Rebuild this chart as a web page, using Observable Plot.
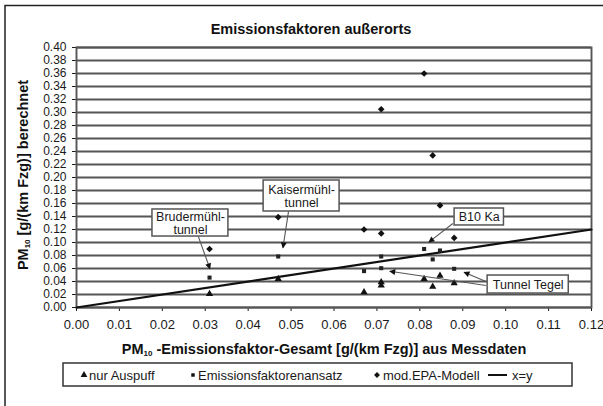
<!DOCTYPE html>
<html><head><meta charset="utf-8">
<script src="https://cdn.jsdelivr.net/npm/d3@7"></script>
<script src="https://cdn.jsdelivr.net/npm/@observablehq/plot@0.6"></script>
<style>
body{margin:0;background:#fff;}
svg{font-family:"Liberation Sans",Arial,Helvetica,sans-serif;}
</style>
</head><body><div id="chart"></div>
<script>
// ---- data ----
const chartTitle = "Emissionsfaktoren außerorts";
const seriesNames = ["nur Auspuff", "Emissionsfaktorenansatz", "mod.EPA-Modell", "x=y"];
// measured PM10 emission factor per site (x)
const siteX      = [0.031, 0.047, 0.067, 0.071, 0.071, 0.081, 0.083, 0.0847, 0.088];
// computed values per site (y)
const auspuff    = [0.021, 0.044, 0.0235, 0.039, 0.034, 0.044, 0.032, 0.049, 0.0374];
const emission   = [0.046, 0.0785, 0.056, 0.0785, 0.0605, 0.090, 0.074, 0.0877, 0.0595];
const epa        = [0.090, 0.139, 0.120, 0.114, 0.305, 0.360, 0.234, 0.157, 0.107];
// x = y reference line
const identityX  = [0, 0.12];
const identityY  = [0, 0.12];
// ticks
const xTicks = [0, 0.01, 0.02, 0.03, 0.04, 0.05, 0.06, 0.07, 0.08, 0.09, 0.10, 0.11, 0.12];
const yTicks = [0, 0.02, 0.04, 0.06, 0.08, 0.10, 0.12, 0.14, 0.16, 0.18, 0.20,
                0.22, 0.24, 0.26, 0.28, 0.30, 0.32, 0.34, 0.36, 0.38, 0.40];
// annotation boxes (data units)
const annoText = ["Brudermühl-\ntunnel", "Kaisermühl-\ntunnel", "B10 Ka", "Tunnel Tegel"];
const annoX1 = [0.0177, 0.0436, 0.0881, 0.0958];
const annoX2 = [0.0354, 0.0613, 0.0996, 0.1147];
const annoY1 = [0.1092, 0.1477, 0.1262, 0.0215];
const annoY2 = [0.1508, 0.1954, 0.1523, 0.0492];
// annotation arrows: start -> tip (data units)
const arrowX1 = [0.0284, 0.0494, 0.0877, 0.0954, 0.0954];
const arrowY1 = [0.109, 0.1477, 0.1292, 0.0338, 0.040];
const arrowX2 = [0.0311, 0.0481, 0.0821, 0.0730, 0.0903];
const arrowY2 = [0.0595, 0.0918, 0.1005, 0.0558, 0.0543];

// ---- build tables ----
const pts = (ys) => siteX.map((x, i) => ({x, y: ys[i]}));
const identity = identityX.map((x, i) => ({x, y: identityY[i]}));
const annos = annoText.map((t, i) => ({t, x1: annoX1[i], x2: annoX2[i], y1: annoY1[i], y2: annoY2[i],
  cx: (annoX1[i] + annoX2[i]) / 2, cy: (annoY1[i] + annoY2[i]) / 2}));
const arrows = arrowX1.map((x1, i) => ({x1, y1: arrowY1[i], x2: arrowX2[i], y2: arrowY2[i]}));

const fmt = d3.format(".2f");
const plot = Plot.plot({
  width: 603, height: 406,
  marginLeft: 76, marginRight: 12, marginTop: 47, marginBottom: 99,
  style: {fontFamily: '"Liberation Sans",Arial,sans-serif', fontSize: "13px", color: "#1a1a1a", background: "transparent"},
  x: {domain: [0, 0.12], ticks: xTicks, tickFormat: fmt, tickSize: 4, tickPadding: 8, label: null},
  y: {domain: [0, 0.40], ticks: yTicks, tickFormat: fmt, tickSize: 4, tickPadding: 6, label: null},
  marks: [
    Plot.ruleY(yTicks, {stroke: "#555", strokeWidth: 1.9}),
    Plot.frame({stroke: "#555", strokeWidth: 1.9}),
    Plot.line(identity, {x: "x", y: "y", stroke: "#111", strokeWidth: 2.2}),
    Plot.dot(pts(auspuff), {x: "x", y: "y", symbol: "triangle", r: 2.7, fill: "#111", stroke: "none"}),
    Plot.dot(pts(emission), {x: "x", y: "y", symbol: "square", r: 2.3, fill: "#222", stroke: "none"}),
    Plot.dot(pts(epa), {x: "x", y: "y", symbol: "diamond2", r: 3.0, fill: "#111", stroke: "none"}),
    Plot.link(arrows, {x1: "x1", y1: "y1", x2: "x2", y2: "y2", stroke: "#555", strokeWidth: 1.1}),
    Plot.rect(annos, {x1: "x1", x2: "x2", y1: "y1", y2: "y2", fill: "white", stroke: "#555", strokeWidth: 1.5}),
    Plot.text(annos, {x: "cx", y: "cy", text: "t", fontSize: 12.5, lineHeight: 1.1, fill: "#1a1a1a"})
  ]
});

const svg = d3.select(plot);
// denser y tick labels: slightly smaller font so they do not collide
svg.selectAll('g[aria-label="y-axis tick label"]').attr("font-size", 12);
svg.selectAll('g[aria-label="y-axis tick label"] text').attr("font-size", 12);

// arrowheads on annotation links
svg.append("defs").html('<marker id="ah" viewBox="0 0 10 10" refX="9" refY="5" markerWidth="7" markerHeight="6" markerUnits="userSpaceOnUse" orient="auto"><path d="M0,0L10,5L0,10z" fill="#111"/></marker>');
svg.selectAll('g[aria-label="link"] path, g[aria-label="link"] line').attr("marker-end", "url(#ah)");

// outer border (top & left visible)
svg.append("path").attr("d", "M5,410V5.5H610").attr("fill", "none").attr("stroke", "#222").attr("stroke-width", 1.5);

// title
svg.append("text").attr("x", 311).attr("y", 34).attr("text-anchor", "middle")
  .attr("font-size", 14.5).attr("font-weight", "bold").attr("fill", "#111").text(chartTitle);

// axis labels with subscript
function pmLabel(sel, rest) {
  sel.append("tspan").text("PM");
  sel.append("tspan").attr("font-size", 8).attr("dy", 2).text("10");
  sel.append("tspan").attr("dy", -2).text(rest);
}
const xl = svg.append("text").attr("x", 324).attr("y", 354).attr("text-anchor", "middle")
  .attr("font-size", 14.5).attr("font-weight", "bold").attr("fill", "#111");
pmLabel(xl, " -Emissionsfaktor-Gesamt [g/(km Fzg)] aus Messdaten");
const yl = svg.append("text").attr("transform", "translate(28,175) rotate(-90)").attr("text-anchor", "middle")
  .attr("font-size", 14.5).attr("font-weight", "bold").attr("fill", "#111");
pmLabel(yl, " [g/(km Fzg)] berechnet");

// legend
const lg = svg.append("g").attr("text-anchor", "start");
lg.append("rect").attr("x", 63).attr("y", 363).attr("width", 509).attr("height", 23)
  .attr("fill", "white").attr("stroke", "#333").attr("stroke-width", 1.5);
const ly = 375;
const legendSymbols = [d3.symbolTriangle, d3.symbolSquare, d3.symbolDiamond2];
const legendSizes = [20, 12, 22];
const legendMarkX = [84, 193, 377];
const legendTextX = [89, 198, 383];
seriesNames.slice(0, 3).forEach((name, i) => {
  lg.append("path").attr("d", d3.symbol(legendSymbols[i], legendSizes[i])())
    .attr("transform", `translate(${legendMarkX[i]},${ly})`).attr("fill", "#111");
  lg.append("text").attr("x", legendTextX[i]).attr("y", ly + 4.5).attr("text-anchor", "start")
    .attr("font-size", 13).attr("fill", "#1a1a1a").text(name);
});
lg.append("line").attr("x1", 488).attr("x2", 507).attr("y1", ly).attr("y2", ly).attr("stroke", "#111").attr("stroke-width", 2);
lg.append("text").attr("x", 512).attr("y", ly + 4.5).attr("text-anchor", "start")
  .attr("font-size", 13).attr("fill", "#1a1a1a").text(seriesNames[3]);

document.getElementById("chart").appendChild(plot);
</script>
</body></html>
